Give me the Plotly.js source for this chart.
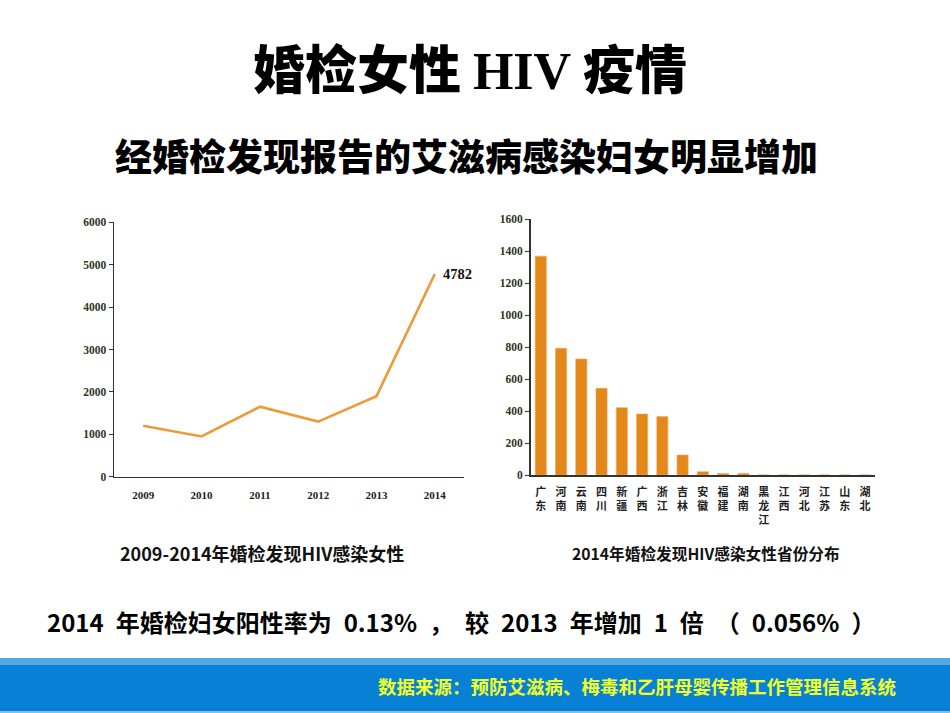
<!DOCTYPE html>
<html>
<head>
<meta charset="utf-8">
<script src="https://cdn.plot.ly/plotly-3.0.1.min.js"></script>
<style>
  html, body { margin: 0; padding: 0; background: #fff; }
  #chart { width: 950px; height: 713px; }
</style>
</head>
<body>
<div id="chart"></div>
<script>
// Women found HIV-positive at premarital check-ups, 2009-2014
const years = ['2009', '2010', '2011', '2012', '2013', '2014'];
const yearCases = [1200, 950, 1650, 1300, 1900, 4782];

// Provincial distribution in 2014
const provinces = ['广东', '河南', '云南', '四川', '新疆', '广西', '浙江', '吉林', '安徽',
                   '福建', '湖南', '黑龙江', '江西', '河北', '江苏', '山东', '湖北'];
const provinceCases = [1368, 792, 725, 542, 421, 381, 365, 125, 21, 10, 10, 0, 0, 0, 0, 0, 0];

const lineTicks = [0, 1000, 2000, 3000, 4000, 5000, 6000];
const barTicks = [0, 200, 400, 600, 800, 1000, 1200, 1400, 1600];

const CJK = '"Noto Sans CJK SC", "Noto Sans", sans-serif';
const SERIF = '"Liberation Serif", "Times New Roman", serif';
const SP = '\u2002'; // en space between words of the summary line

// Province names are written top to bottom, one character per line
const verticalLabels = provinces.map(p => p.split('').join('<br>'));
const lastYear = years.length - 1;

const traces = [
  {
    type: 'scatter', mode: 'lines',
    x: years, y: yearCases,
    xaxis: 'x', yaxis: 'y',
    line: { color: '#EC9A3C', width: 2.6 },
    hoverinfo: 'x+y'
  },
  {
    type: 'bar',
    x: provinces, y: provinceCases,
    xaxis: 'x2', yaxis: 'y2',
    marker: { color: '#E4881A', line: { color: '#F0A85A', width: 0.6 } },
    hoverinfo: 'x+y'
  }
];

const axisLine = { showline: true, linecolor: '#333', linewidth: 1.5, zeroline: false, showgrid: false };

const layout = {
  width: 950, height: 713,
  margin: { l: 0, r: 0, t: 0, b: 0 },
  paper_bgcolor: '#ffffff', plot_bgcolor: '#ffffff',
  showlegend: false,
  xaxis: Object.assign({}, axisLine, {
    domain: [0.1200, 0.4884], range: [-0.5, 5.5], type: 'category', anchor: 'y',
    ticks: '', ticklabelstandoff: 8,
    tickfont: { family: SERIF, size: 11, color: '#222', weight: 'bold' }
  }),
  yaxis: Object.assign({}, axisLine, {
    domain: [0.3314, 0.6882], range: [0, 6000], anchor: 'x',
    tickvals: lineTicks, ticks: 'outside', ticklen: 4, tickcolor: '#333',
    tickfont: { family: SERIF, size: 11.5, color: '#2d3522', weight: 'bold' }
  }),
  xaxis2: Object.assign({}, axisLine, {
    domain: [0.5586, 0.9211], range: [-0.5, 16.5], type: 'category', anchor: 'y2',
    ticks: '', ticklabelstandoff: 6,
    tickvals: provinces, ticktext: verticalLabels,
    tickfont: { family: CJK, size: 11, color: '#222', weight: 'bold' }
  }),
  yaxis2: Object.assign({}, axisLine, {
    domain: [0.3338, 0.6928], range: [0, 1600], anchor: 'x2',
    tickvals: barTicks, ticks: 'outside', ticklen: 4, tickcolor: '#333',
    tickfont: { family: SERIF, size: 11.5, color: '#2d3522', weight: 'bold' }
  }),
  bargap: 0.45,
  shapes: [
    // footer band
    { type: 'rect', xref: 'paper', yref: 'paper', x0: 0, x1: 1, y0: 1 - 665 / 713, y1: 1 - 658 / 713,
      fillcolor: '#55A8E2', line: { width: 0 }, layer: 'below' },
    { type: 'rect', xref: 'paper', yref: 'paper', x0: 0, x1: 1, y0: 1 - 711 / 713, y1: 1 - 665 / 713,
      fillcolor: '#0781D6', line: { width: 0 }, layer: 'below' },
    { type: 'rect', xref: 'paper', yref: 'paper', x0: 0, x1: 1, y0: 0, y1: 1 - 711 / 713,
      fillcolor: '#7CC0EE', line: { width: 0 }, layer: 'below' }
  ],
  annotations: [
    { xref: 'paper', yref: 'paper', x: 470 / 950, y: 1 - 67 / 713, xanchor: 'center', yanchor: 'middle',
      showarrow: false,
      text: '婚检女性 <span style="font-family:\'Liberation Serif\',serif">HIV</span> 疫情',
      font: { family: CJK, size: 52, color: '#000', weight: 900 } },
    { xref: 'paper', yref: 'paper', x: 466 / 950, y: 1 - 155 / 713, xanchor: 'center', yanchor: 'middle',
      showarrow: false, text: '经婚检发现报告的艾滋病感染妇女明显增加',
      font: { family: CJK, size: 37, color: '#000', weight: 900 } },
    // value label at the 2014 point
    { xref: 'x', yref: 'y', x: lastYear, y: yearCases[lastYear], xanchor: 'left', yanchor: 'middle',
      xshift: 6, showarrow: false, text: String(yearCases[lastYear]),
      font: { family: SERIF, size: 14.5, color: '#111', weight: 'bold' } },
    // chart captions
    { xref: 'paper', yref: 'paper', x: 118 / 950, y: 1 - 553 / 713, xanchor: 'left', yanchor: 'middle',
      showarrow: false, text: '2009-2014年婚检发现HIV感染女性',
      font: { family: CJK, size: 18, color: '#111', weight: 'bold' } },
    { xref: 'paper', yref: 'paper', x: 706 / 950, y: 1 - 553 / 713, xanchor: 'center', yanchor: 'middle',
      showarrow: false, text: '2014年婚检发现HIV感染女性省份分布',
      font: { family: CJK, size: 15.7, color: '#111', weight: 'bold' } },
    // summary sentence
    { xref: 'paper', yref: 'paper', x: 45 / 950, y: 1 - 621 / 713, xanchor: 'left', yanchor: 'middle',
      showarrow: false,
      text: ['2014', '年婚检妇女阳性率为', '0.13%', '，', '较', '2013', '年增加', '1', '倍', '（', '0.056%', '）'].join(SP),
      font: { family: CJK, size: 24, color: '#000', weight: 'bold' } },
    // data source
    { xref: 'paper', yref: 'paper', x: 898 / 950, y: 1 - 686 / 713, xanchor: 'right', yanchor: 'middle',
      showarrow: false, text: '数据来源：预防艾滋病、梅毒和乙肝母婴传播工作管理信息系统',
      font: { family: CJK, size: 18.5, color: '#F2FF2A', weight: 'bold' } }
  ]
};

Plotly.newPlot('chart', traces, layout, { displayModeBar: false, staticPlot: true });
</script>
</body>
</html>
